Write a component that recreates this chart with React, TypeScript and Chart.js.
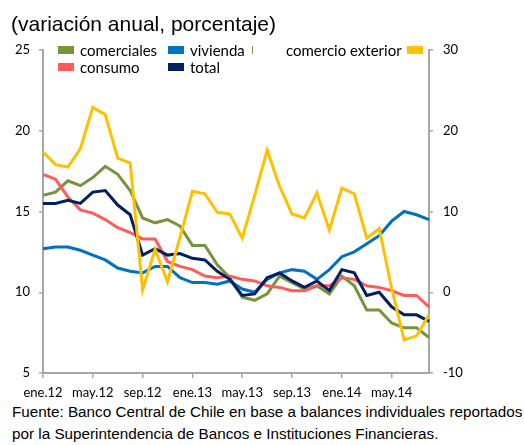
import React, { useEffect, useRef } from "react";
import { Chart, registerables } from "chart.js";

Chart.register(...registerables);

const months = [
  "ene.12", "feb.12", "mar.12", "abr.12", "may.12", "jun.12", "jul.12", "ago.12",
  "sep.12", "oct.12", "nov.12", "dic.12", "ene.13", "feb.13", "mar.13", "abr.13",
  "may.13", "jun.13", "jul.13", "ago.13", "sep.13", "oct.13", "nov.13", "dic.13",
  "ene.14", "feb.14", "mar.14", "abr.14", "may.14", "jun.14", "jul.14", "ago.14",
];

const comerciales = [16.0, 16.2, 16.9, 16.6, 17.1, 17.8, 17.3, 16.3, 14.6, 14.3, 14.5, 14.1, 12.9, 12.9, 11.7, 10.9, 9.7, 9.5, 9.9, 11.0, 10.6, 10.2, 10.4, 9.9, 11.0, 10.4, 8.9, 8.9, 8.1, 7.8, 7.8, 7.2];
const consumo = [17.3, 17.0, 15.9, 15.1, 14.9, 14.5, 14.0, 13.7, 13.3, 13.3, 11.9, 11.6, 11.4, 11.0, 10.9, 11.0, 10.8, 10.7, 10.4, 10.3, 10.1, 10.1, 10.4, 10.4, 10.9, 10.8, 10.4, 10.3, 10.1, 9.8, 9.8, 9.1];
const vivienda = [12.7, 12.8, 12.8, 12.6, 12.3, 12.0, 11.5, 11.3, 11.2, 11.6, 11.6, 10.9, 10.6, 10.6, 10.5, 10.7, 10.2, 10.0, 10.8, 11.2, 11.4, 11.3, 10.8, 11.4, 12.2, 12.5, 13.0, 13.5, 14.4, 15.0, 14.8, 14.5];
const total = [15.5, 15.5, 15.7, 15.5, 16.2, 16.3, 15.4, 14.8, 12.3, 12.7, 12.3, 12.4, 12.1, 12.0, 11.3, 10.8, 9.8, 9.9, 10.9, 11.2, 10.7, 10.3, 10.7, 10.1, 11.4, 11.2, 9.8, 10.0, 9.1, 8.6, 8.6, 8.2];
const comercioExterior = [17.4, 15.8, 15.5, 17.8, 22.9, 22.0, 16.6, 16.0, 0.3, 5.3, 1.3, 6.8, 12.5, 12.2, 9.9, 9.7, 6.7, 12.0, 17.6, 13.1, 9.7, 9.2, 12.3, 7.7, 12.9, 12.2, 6.7, 7.9, 0.5, -5.9, -5.4, -2.8];

const COLORS = {
  comerciales: "#77933C",
  vivienda: "#0070C0",
  consumo: "#FF5B5B",
  total: "#002060",
  comercioExterior: "#FFC000",
};

const AXIS = "#a6a6a6";
const TICK_FONT = { family: "Lato", size: 13 };

export default function App() {
  const ref = useRef<HTMLCanvasElement>(null);

  useEffect(() => {
    const chart = new Chart(ref.current!, {
      type: "line",
      data: {
        labels: months,
        datasets: [
          { label: "comercio exterior", data: comercioExterior, borderColor: COLORS.comercioExterior, yAxisID: "y2" },
          { label: "total", data: total, borderColor: COLORS.total, yAxisID: "y" },
          { label: "vivienda", data: vivienda, borderColor: COLORS.vivienda, yAxisID: "y" },
          { label: "consumo", data: consumo, borderColor: COLORS.consumo, yAxisID: "y" },
          { label: "comerciales", data: comerciales, borderColor: COLORS.comerciales, yAxisID: "y" },
        ],
      },
      options: {
        animation: false,
        responsive: false,
        maintainAspectRatio: false,
        layout: { padding: { top: 50, left: 0, right: 0, bottom: 0 } },
        plugins: { legend: { display: false }, tooltip: { enabled: false } },
        elements: {
          point: { radius: 0 },
          line: { tension: 0, borderWidth: 3, borderJoinStyle: "miter", fill: false },
        },
        scales: {
          x: {
            type: "category",
            offset: false,
            grid: {
              drawOnChartArea: false,
              tickLength: 5,
              lineWidth: 1.5,
              color: (ctx: any) => (ctx.index % 4 === 0 ? AXIS : "rgba(0,0,0,0)"),
            },
            border: { color: AXIS, width: 2 },
            ticks: {
              autoSkip: false,
              maxRotation: 0,
              minRotation: 0,
              padding: 7,
              color: "#000",
              font: TICK_FONT,
              callback: (_v: any, i: number) => (i % 4 === 0 ? months[i] : ""),
            },
            afterFit: (s: any) => {
              s.height = 27;
            },
          },
          y: {
            position: "left",
            min: 5,
            max: 25,
            grid: { drawOnChartArea: false, tickLength: 4, color: AXIS, lineWidth: 1.5 },
            border: { color: AXIS, width: 2 },
            ticks: { stepSize: 5, padding: 9, color: "#000", font: TICK_FONT },
            afterFit: (s: any) => {
              s.width = 43;
            },
          },
          y2: {
            position: "right",
            min: -10,
            max: 30,
            grid: { drawOnChartArea: false, tickLength: 4, color: AXIS, lineWidth: 1.5 },
            border: { color: AXIS, width: 2 },
            ticks: { stepSize: 10, padding: 10, color: "#000", font: TICK_FONT },
            afterFit: (s: any) => {
              s.width = 95;
            },
          },
        },
      },
    });
    return () => chart.destroy();
  }, []);

  const legendText: React.CSSProperties = {
    position: "absolute",
    fontFamily: "Lato",
    fontSize: 15,
    lineHeight: "16px",
    color: "#000",
    whiteSpace: "nowrap",
  };
  const box = (left: number, top: number, color: string): React.CSSProperties => ({
    position: "absolute",
    left,
    top,
    width: 16,
    height: 8,
    background: color,
  });

  return (
    <div style={{ position: "absolute", left: 0, top: 0, width: 524, height: 445, background: "#fff", overflow: "hidden" }}>
      <canvas ref={ref} width={524} height={400} style={{ position: "absolute", left: 0, top: 0 }} />
      <div style={{ position: "absolute", left: 11, top: 12, fontFamily: "Liberation Sans", fontSize: 21, lineHeight: "24px", color: "#000", whiteSpace: "nowrap" }}>
        (variación anual, porcentaje)
      </div>
      <div style={box(58, 46, COLORS.comerciales)} />
      <div style={{ ...legendText, left: 80, top: 42 }}>comerciales</div>
      <div style={box(168, 46, COLORS.vivienda)} />
      <div style={{ ...legendText, left: 190, top: 42 }}>vivienda</div>
      <div style={{ position: "absolute", left: 252, top: 46, width: 1, height: 8, background: COLORS.comerciales }} />
      <div style={{ ...legendText, left: 286, top: 42 }}>comercio exterior</div>
      <div style={box(407, 46, COLORS.comercioExterior)} />
      <div style={box(58, 63, COLORS.consumo)} />
      <div style={{ ...legendText, left: 80, top: 59 }}>consumo</div>
      <div style={box(168, 63, COLORS.total)} />
      <div style={{ ...legendText, left: 190, top: 59 }}>total</div>
      <div style={{ position: "absolute", left: 12, top: 401, fontFamily: "Liberation Sans", fontSize: 15.25, lineHeight: "22px", color: "#000", whiteSpace: "nowrap" }}>
        Fuente: Banco Central de Chile en base a balances individuales reportados
        <br />
        por la Superintendencia de Bancos e Instituciones Financieras.
      </div>
    </div>
  );
}
